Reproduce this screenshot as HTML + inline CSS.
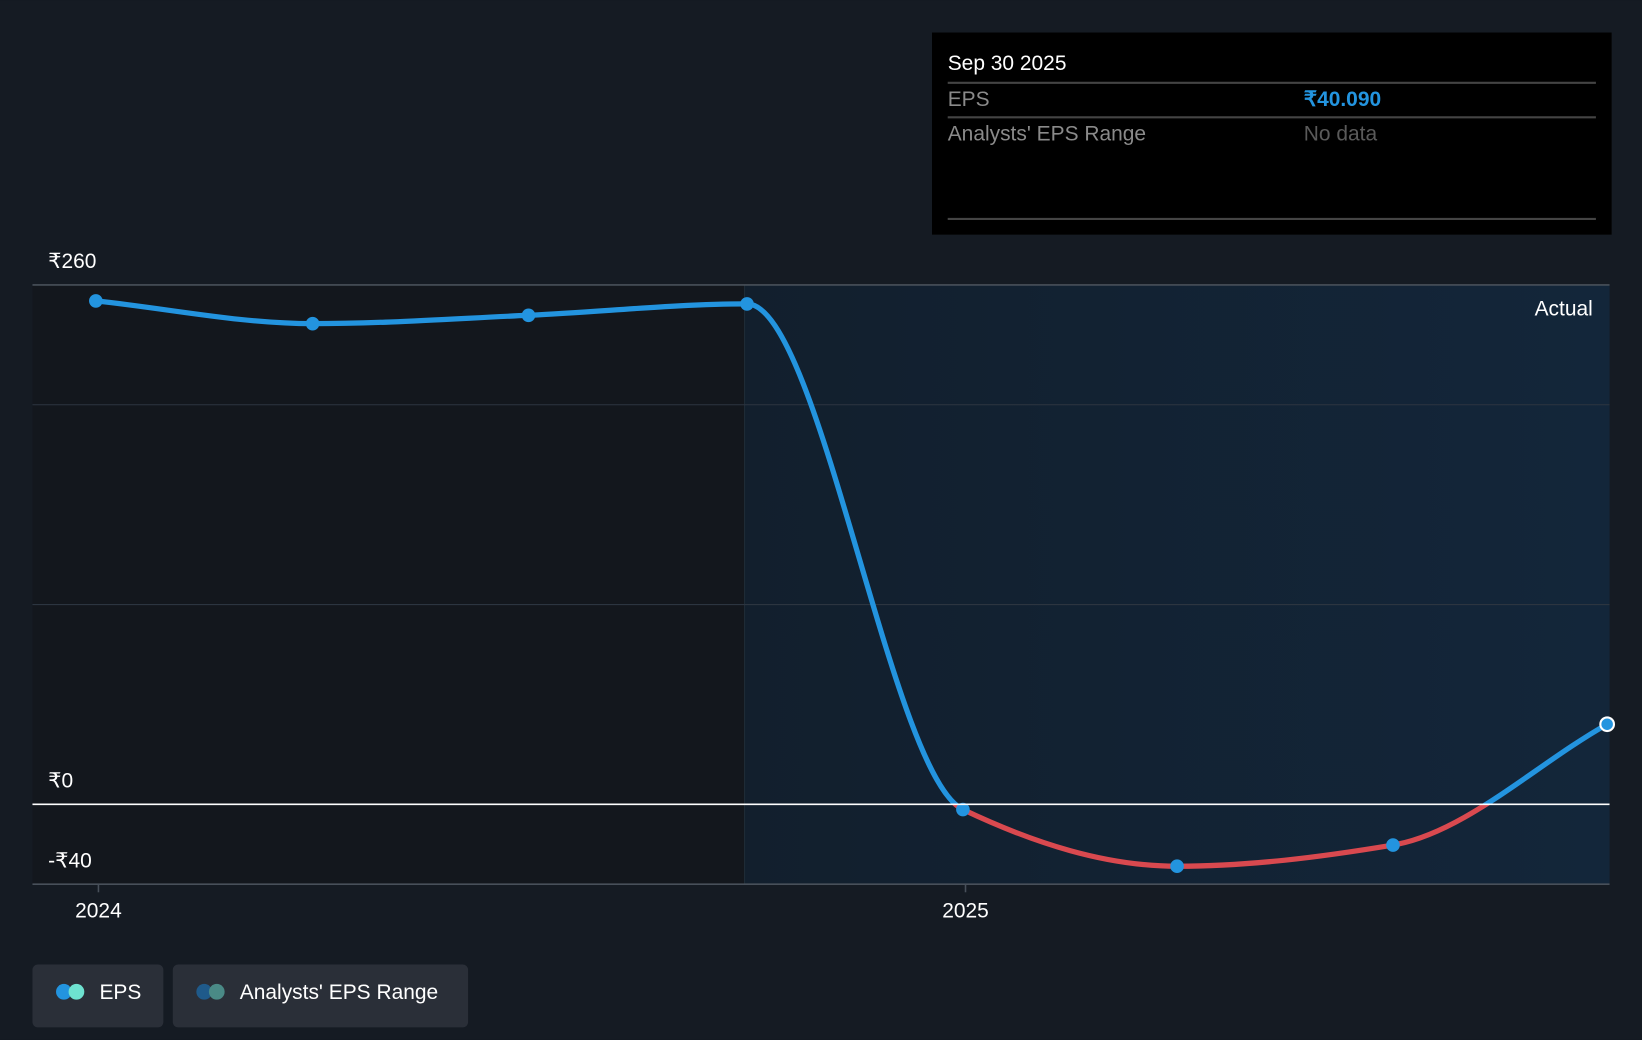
<!DOCTYPE html>
<html><head><meta charset="utf-8"><style>
html,body{margin:0;padding:0;background:#151b23;}
svg{display:block;font-family:"Liberation Sans","Noto Sans CJK SC",sans-serif;}
</style></head><body>
<svg id="chart" width="1642" height="1040" viewBox="0 0 1568 993">
<defs><linearGradient id="actg" x1="0" x2="1" y1="0" y2="0"><stop offset="0" stop-color="#121f2d"/><stop offset="1" stop-color="#13263a"/></linearGradient></defs>
<rect x="0" y="0" width="1568" height="993" fill="#151b23"/>
<rect x="31" y="272" width="680" height="573" fill="#13171d"/>
<rect x="711" y="272" width="826" height="573" fill="url(#actg)"/>
<line x1="711" y1="272" x2="711" y2="845" stroke="#1f2c38" stroke-width="1"/>
<g id="grid"></g>
<g id="curve"></g>
<g id="points"></g>
<g id="axes"></g>
<text x="1521" y="301" fill="#fff" font-size="20" text-anchor="end">Actual</text>
<g>
<rect x="890" y="31" width="649" height="193" fill="#000"/>
<text x="905" y="67" fill="#fff" font-size="20" font-weight="500">Sep 30 2025</text>
<line x1="905" y1="79" x2="1524" y2="79" stroke="#444" stroke-width="2"/>
<text x="905" y="101" fill="#8a8a8a" font-size="20">EPS</text>
<text x="1245" y="101" fill="#2394df" font-size="20" font-weight="bold">₹40.090</text>
<line x1="905" y1="112" x2="1524" y2="112" stroke="#444" stroke-width="2"/>
<text x="905" y="134" fill="#8a8a8a" font-size="20">Analysts' EPS Range</text>
<text x="1245" y="134" fill="#5a5a5a" font-size="20">No data</text>
<line x1="905" y1="209" x2="1524" y2="209" stroke="#444" stroke-width="2"/>
</g>
<g>
<rect x="31" y="921" width="125" height="60" rx="5" fill="#2a2f38"/>
<circle cx="61" cy="947" r="7.5" fill="#2394df"/><circle cx="73" cy="947" r="7.5" fill="#6ee2d0"/>
<text x="95" y="954" fill="#fff" font-size="20">EPS</text>
</g>
<g>
<rect x="165" y="921" width="282" height="60" rx="5" fill="#2a2f38"/>
<circle cx="195" cy="947" r="7.5" fill="#1f5a8a"/><circle cx="207" cy="947" r="7.5" fill="#4a8a86"/>
<text x="229" y="954" fill="#fff" font-size="20">Analysts' EPS Range</text>
</g>
</svg>
<script>
const dates=[2023.997,2024.247,2024.496,2024.748,2024.997,2025.244,2025.493,2025.740];
const eps=[252,240.6,244.8,250.5,-2.6,-31,-20.4,40.09];
const yTicks=[260,0,-40];
const yTickLabels=["₹260","₹0","-₹40"];
const xTicks=[2024,2025];
const xTickLabels=["2024","2025"];
const gridVals=[200,100];
const NS="http://www.w3.org/2000/svg";
const x=v=>94+(v-2024)*828;
const y=v=>768-v*(496/260);
function mk(t,a,p){const e=document.createElementNS(NS,t);for(const k in a)e.setAttribute(k,a[k]);p.appendChild(e);return e;}
const grid=document.getElementById('grid'),axes=document.getElementById('axes');
gridVals.forEach(v=>{const l=mk('line',{x1:31,x2:1537,y1:y(v),y2:y(v),stroke:'#2c3540','stroke-width':1},grid);

});
yTicks.forEach((v,i)=>{
const l=mk('line',{x1:31,x2:1537,y1:y(v),y2:y(v),stroke:v===0?'#fff':'#48505a','stroke-width':1.5},axes);


const t=mk('text',{x:46,y:y(v)-16,fill:'#fff','font-size':20},axes);t.textContent=yTickLabels[i];

});
xTicks.forEach((v,i)=>{
const l=mk('line',{x1:x(v),x2:x(v),y1:845,y2:852,stroke:'#48505a','stroke-width':1.5},axes);


const t=mk('text',{x:x(v),y:876,fill:'#fff','font-size':20,'text-anchor':'middle'},axes);t.textContent=xTickLabels[i];

});
const P=dates.map((d,i)=>[x(d),y(eps[i])]);
const n=P.length,m=[],dl=[];
for(let i=0;i<n-1;i++)dl.push((P[i+1][1]-P[i][1])/(P[i+1][0]-P[i][0]));
for(let i=0;i<n;i++){if(i===0)m.push(dl[0]);else if(i===n-1)m.push(dl[n-2]);else m.push(0);}
for(let i=1;i<n-1;i++){if(dl[i-1]*dl[i]>0){const h0=P[i][0]-P[i-1][0],h1=P[i+1][0]-P[i][0];m[i]=3*(h0+h1)/((2*h1+h0)/dl[i-1]+(h1+2*h0)/dl[i]);}}
let d='M'+P[0][0]+','+P[0][1];
for(let i=0;i<n-1;i++){const h=(P[i+1][0]-P[i][0])/3;d+=` C${P[i][0]+h},${P[i][1]+m[i]*h} ${P[i+1][0]-h},${P[i+1][1]-m[i+1]*h} ${P[i+1][0]},${P[i+1][1]}`;}
const svg=document.getElementById('chart');
const defs=svg.querySelector('defs');
const c1=mk('clipPath',{id:'above'},defs);mk('rect',{x:0,y:0,width:1568,height:y(0)},c1);
const c2=mk('clipPath',{id:'below'},defs);mk('rect',{x:0,y:y(0),width:1568,height:300},c2);
const curve=document.getElementById('curve');
const pa=mk('path',{d:d,fill:'none',stroke:'#2394df','stroke-width':5,'clip-path':'url(#above)','stroke-linecap':'round'},curve);


const pb=mk('path',{d:d,fill:'none',stroke:'#d9494f','stroke-width':5,'clip-path':'url(#below)'},curve);


const pts=document.getElementById('points');
P.forEach((p,i)=>{const last=i===n-1;
const c=mk('circle',{cx:p[0],cy:p[1],r:6.5,fill:'#2394df',stroke:last?'#fff':'none','stroke-width':last?2:0},pts);

});
</script>
</body></html>
